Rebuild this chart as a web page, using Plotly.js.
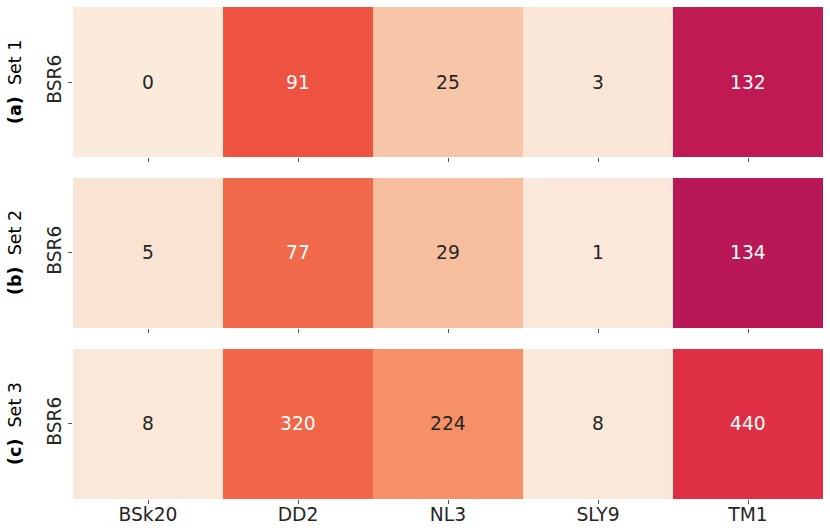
<!DOCTYPE html>
<html>
<head>
<meta charset="utf-8">
<script src="https://cdn.plot.ly/plotly-3.0.1.min.js"></script>
<style>html,body{margin:0;padding:0;background:#fff;}#chart{width:830px;height:532px;}</style>
</head>
<body>
<div id="chart"></div>
<script>
const models = ["BSk20", "DD2", "NL3", "SLY9", "TM1"];
const rowLabel = "BSR6";
const setNames = ["Set 1", "Set 2", "Set 3"];
const setTags = ["(a)", "(b)", "(c)"];
const set1 = [0, 91, 25, 3, 132];
const set2 = [5, 77, 29, 1, 134];
const set3 = [8, 320, 224, 8, 440];
const sets = [set1, set2, set3];

const rocketR = [
  [0.0, '#faebdd'], [0.143, '#f6b48f'], [0.214, '#f5946b'], [0.286, '#f37651'],
  [0.36, '#ee5340'], [0.429, '#e13342'], [0.5, '#cb1b4f'], [0.571, '#ad1759'],
  [0.714, '#701f57'], [0.857, '#35193e'], [1.0, '#03051a']
];

const FS = 18.7;
const domains = [[0.6951, 1.0], [0.3476, 0.6524], [0.0, 0.3049]];
const traces = [];
const annotations = [];
const layout = {
  width: 830, height: 532,
  margin: {l: 73, r: 7, t: 7, b: 33},
  paper_bgcolor: '#ffffff', plot_bgcolor: '#ffffff',
  font: {family: 'DejaVu Sans', size: FS, color: '#262626'},
  showlegend: false,
  annotations: annotations
};

sets.forEach((vals, i) => {
  const total = vals.reduce((a, b) => a + b, 0);
  const xa = i === 0 ? 'x' : 'x' + (i + 1);
  const ya = i === 0 ? 'y' : 'y' + (i + 1);
  traces.push({
    type: 'heatmap', x: models, y: [rowLabel], z: [vals],
    zmin: 0, zmax: total, colorscale: rocketR, showscale: false,
    xaxis: xa, yaxis: ya, hoverinfo: 'skip'
  });
  const xkey = i === 0 ? 'xaxis' : 'xaxis' + (i + 1);
  const ykey = i === 0 ? 'yaxis' : 'yaxis' + (i + 1);
  layout[xkey] = {
    domain: [0, 1], anchor: ya, type: 'category',
    showgrid: false, zeroline: false, showline: false,
    ticks: 'outside', ticklen: 4, tickwidth: 1, tickcolor: '#555555',
    showticklabels: i === 2, ticklabelstandoff: -5,
    tickfont: {family: 'DejaVu Sans', size: FS, color: '#262626'}
  };
  layout[ykey] = {
    domain: domains[i], anchor: xa, type: 'category',
    showgrid: false, zeroline: false, showline: false,
    ticks: 'outside', ticklen: 4, tickwidth: 1, tickcolor: '#555555',
    tickangle: -90,
    tickfont: {family: 'DejaVu Sans', size: FS, color: '#262626'}
  };
  vals.forEach((v, j) => {
    annotations.push({
      xref: xa, yref: ya, x: models[j], y: rowLabel, text: String(v),
      showarrow: false,
      font: {family: 'DejaVu Sans', size: FS, color: (v / total) > 0.27 ? '#ffffff' : '#262626'}
    });
  });
  annotations.push({
    xref: 'paper', yref: 'paper', x: 0, y: (domains[i][0] + domains[i][1]) / 2,
    xanchor: 'center', yanchor: 'middle', xshift: -58, textangle: -90,
    text: '<b>' + setTags[i] + '</b>&nbsp;&nbsp;' + setNames[i], showarrow: false,
    font: {family: 'DejaVu Sans', size: 17.5, color: '#000000'}
  });
});

Plotly.newPlot('chart', traces, layout, {displayModeBar: false, staticPlot: true});
</script>
</body>
</html>
